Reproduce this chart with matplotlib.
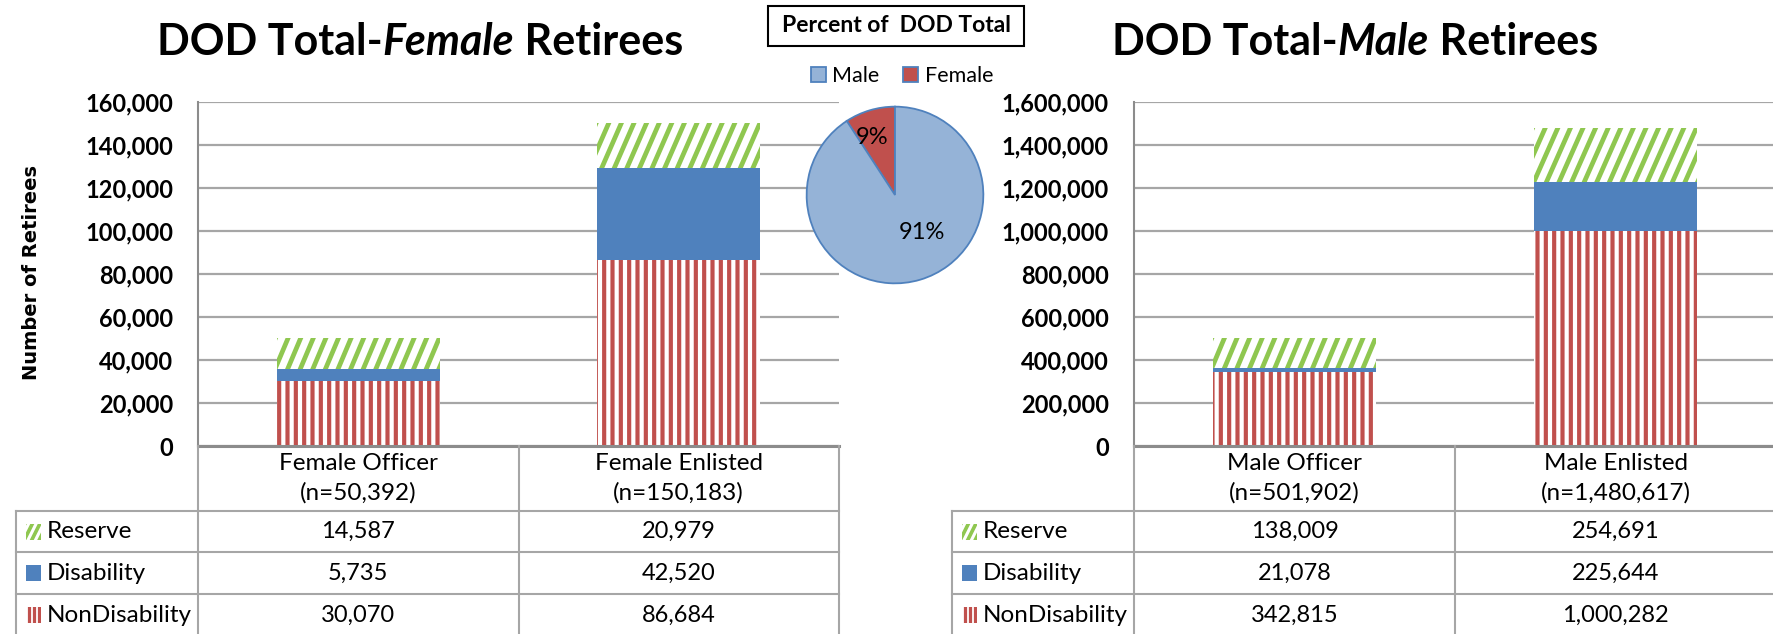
import matplotlib
matplotlib.use('Agg')
import matplotlib.pyplot as plt
from matplotlib.patches import Rectangle
from matplotlib.collections import LineCollection
from matplotlib.transforms import IdentityTransform
from matplotlib.ticker import FuncFormatter

plt.rcParams['font.family'] = ['Lato', 'DejaVu Sans']
plt.rcParams['hatch.linewidth'] = 3.0

# data
female_cats = ['Female Officer', 'Female Enlisted']
male_cats = ['Male Officer', 'Male Enlisted']
series = ['Reserve', 'Disability', 'NonDisability']
female_reserve = [14587, 20979]
female_disability = [5735, 42520]
female_nondisability = [30070, 86684]
male_reserve = [138009, 254691]
male_disability = [21078, 225644]
male_nondisability = [342815, 1000282]
pie_labels = ['Male', 'Female']

RED = '#C0504D'
BLUE = '#4F81BD'
GREEN = '#8FC750'
LIGHTBLUE = '#95B3D7'
GRID = '#A6A6A6'

W, H = 1774, 634
fig = plt.figure(figsize=(W / 100, H / 100), dpi=100)
fig.patch.set_facecolor('white')


def box(x0, y0, x1, y1):
    return [x0 / W, 1 - y1 / H, (x1 - x0) / W, (y1 - y0) / H]


def stripes(ax, patch, color, spacing, slope=None, lw=3.4):
    # stripes clipped to the patch, in pixel space (slope None = vertical)
    bb = patch.get_window_extent()
    dx = 0 if slope is None else (bb.y1 - bb.y0) / slope
    segs = []
    x = bb.x0 - dx + (spacing / 2 if slope is None else 0)
    while x < bb.x1 + spacing:
        segs.append([(x, bb.y0 - 2), (x + dx, bb.y1 + 2)])
        x += spacing
    lc = LineCollection(segs, colors=color, linewidths=lw, transform=IdentityTransform())
    ax.add_collection(lc, autolim=False)
    lc.set_clip_path(patch)


def stacked_panel(rect, trect, cats, nondis, dis, res, ymax, ystep):
    ax = fig.add_axes(box(*rect))
    x = range(len(cats))
    bw = 0.51
    ax.bar(x, nondis, width=bw, color='white', edgecolor=RED, linewidth=0, hatch='||')
    ax.bar(x, dis, width=bw, bottom=nondis, color=BLUE, edgecolor=BLUE, linewidth=0)
    bot2 = [a + b for a, b in zip(nondis, dis)]
    rbars = ax.bar(x, res, width=bw, bottom=bot2, color='white', linewidth=0)
    ax.set_xlim(-0.5, len(cats) - 0.5)
    ax.set_ylim(0, ymax)
    for p in rbars:
        stripes(ax, p, GREEN, 12.6, slope=2.1)
    ax.set_yticks(range(0, ymax + 1, ystep))
    ax.yaxis.set_major_formatter(FuncFormatter(lambda v, p: '{:,.0f}'.format(v)))
    ax.set_xticks([])
    ax.tick_params(axis='y', length=0, pad=18, labelsize=17)
    for lab in ax.get_yticklabels():
        lab.set_fontweight('bold')
    ax.yaxis.grid(True, color=GRID, lw=1.6)
    ax.set_axisbelow(True)
    for s in ['top', 'right']:
        ax.spines[s].set_visible(False)
    ax.spines['left'].set_color('#8C8C8C')
    ax.spines['left'].set_linewidth(1.5)
    ax.spines['bottom'].set_color('#8C8C8C')
    ax.spines['bottom'].set_linewidth(2.2)

    # data table under the chart
    tax = fig.add_axes(box(*trect))
    unit = (rect[2] - rect[0]) / len(cats)
    leg = (rect[0] - trect[0]) / unit
    left = -0.5 - leg
    right = len(cats) - 0.5
    tax.set_xlim(left, right)
    tax.set_ylim(1, 0)
    tax.axis('off')
    hb = 65 / 190
    rows = [hb, 106 / 190, 148 / 190, 1.0]
    lk = dict(color=GRID, lw=1.5, clip_on=False)
    tax.plot([left, left], [hb, 1], **lk)
    for xv in [i - 0.5 for i in range(len(cats) + 1)]:
        tax.plot([xv, xv], [0, 1], **lk)
    for yv in rows[:-1]:
        tax.plot([left, right], [yv, yv], **lk)
    totals = [a + b + c for a, b, c in zip(nondis, dis, res)]
    for i, c in enumerate(cats):
        tax.text(i, hb / 2, '{}\n(n={:,})'.format(c, totals[i]), ha='center', va='center',
                 fontsize=17.5, linespacing=1.45)
    vals = [res, dis, nondis]
    for r, name in enumerate(series):
        yc = (rows[r] + rows[r + 1]) / 2
        kh = 16 / 190
        key = Rectangle((left + 10 / unit, yc - kh / 2), 15 / unit, kh, lw=0, clip_on=False,
                        facecolor=BLUE if r == 1 else 'white')
        tax.add_patch(key)
        if r == 0:
            stripes(tax, key, GREEN, 7.5, slope=1.6, lw=2.6)
        elif r == 2:
            stripes(tax, key, RED, 5.2, lw=2.3)
        tax.text(left + 31 / unit, yc, name, ha='left', va='center', fontsize=17.5)
        for i in range(len(cats)):
            tax.text(i, yc, '{:,}'.format(vals[r][i]), ha='center', va='center', fontsize=17)
    return ax


def mixed_title(xc, ybase, parts, size):
    r = fig.canvas.get_renderer()
    texts = [fig.text(0, 1 - ybase / H, s, fontsize=size, fontweight='bold', style=st,
                      va='baseline') for s, st in parts]
    widths = [t.get_window_extent(r).width for t in texts]
    x = xc - sum(widths) / 2
    for t, w in zip(texts, widths):
        t.set_x(x / W)
        x += w


axl = stacked_panel((198, 102, 839, 446), (16, 446, 839, 636), female_cats,
                    female_nondisability, female_disability, female_reserve, 160000, 20000)
axl.set_ylabel('Number of Retirees', family='DejaVu Sans', fontweight='bold', fontsize=14)
axl.yaxis.set_label_coords((41 - 198) / 641, (446 - 272) / 344)

axr = stacked_panel((1134, 102, 1776, 446), (952, 446, 1776, 636), male_cats,
                    male_nondisability, male_disability, male_reserve, 1600000, 200000)

mixed_title(420, 55, [('DOD Total-', 'normal'), ('Female', 'italic'), (' Retirees', 'normal')], 31)
mixed_title(1355, 55, [('DOD Total-', 'normal'), ('Male', 'italic'), (' Retirees', 'normal')], 31)

# pie of totals
female_total = sum(female_reserve) + sum(female_disability) + sum(female_nondisability)
male_total = sum(male_reserve) + sum(male_disability) + sum(male_nondisability)
pax = fig.add_axes(box(804, 104, 986, 286))
wedges, _ = pax.pie([female_total, male_total], colors=[RED, LIGHTBLUE], startangle=90,
                    counterclock=True, wedgeprops=dict(edgecolor=BLUE, linewidth=1.3))
pax.set_xlim(-1.03, 1.03)
pax.set_ylim(-1.03, 1.03)
share = [female_total / (female_total + male_total), male_total / (female_total + male_total)]
pax.text(-0.26, 0.65, '{:.0f}%'.format(share[0] * 100), ha='center', va='center', fontsize=17)
pax.text(0.30, -0.42, '{:.0f}%'.format(share[1] * 100), ha='center', va='center', fontsize=17)

fig.legend([wedges[1], wedges[0]], pie_labels, loc='center', bbox_to_anchor=(902 / W, 1 - 76 / H),
           ncol=2, frameon=False, fontsize=15.5, handlelength=0.7, handleheight=0.7,
           handletextpad=0.3, columnspacing=1.1)

fig.text(896 / W, 1 - 26 / H, 'Percent of  DOD Total', ha='center', va='center', fontsize=16.5,
         fontweight='bold')
fig.add_artist(Rectangle((768 / W, 1 - 46 / H), 256 / W, 40 / H, transform=fig.transFigure,
                         facecolor='none', edgecolor='black', lw=1.5))

fig.savefig('out.png', dpi=100, facecolor='white')
